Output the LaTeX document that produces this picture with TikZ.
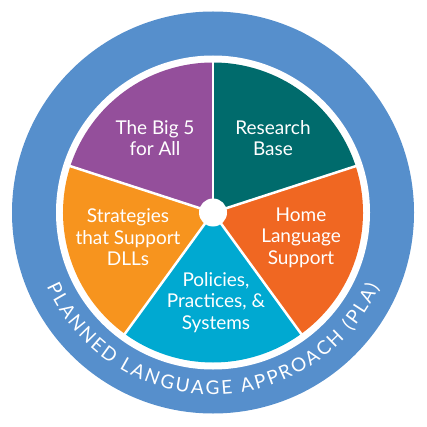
\documentclass[tikz,border=0pt]{standalone}
\usepackage{fontspec}
\setmainfont{Lato}
\usetikzlibrary{calc, decorations.text}

\definecolor{ringblue}{HTML}{568FCC}
\definecolor{bigpurple}{HTML}{944F9B}
\definecolor{researchteal}{HTML}{006B6C}
\definecolor{homeorange}{HTML}{F06722}
\definecolor{policycyan}{HTML}{00A9D1}
\definecolor{stratorange}{HTML}{F7941E}

\begin{document}
\begin{tikzpicture}[x=1pt,y=1pt,
    pietext/.style={text=white,align=center,font=\fontsize{19}{21.5}\selectfont},
    divider/.style={white,line width=2.5pt}]
	\useasboundingbox (0,0) rectangle (427,426);
	\coordinate (c) at (213,213.5);
	% ring
	\fill[ringblue] (c) circle[radius=201];
	\fill[white] (c) circle[radius=157];
	% sectors
	\fill[bigpurple]    (c) -- ++(90:150)  arc[start angle=90,  end angle=162, radius=150] -- cycle;
	\fill[stratorange]  (c) -- ++(162:150) arc[start angle=162, end angle=234, radius=150] -- cycle;
	\fill[policycyan]   (c) -- ++(234:150) arc[start angle=234, end angle=306, radius=150] -- cycle;
	\fill[homeorange]   (c) -- ++(306:150) arc[start angle=306, end angle=378, radius=150] -- cycle;
	\fill[researchteal] (c) -- ++(18:150)  arc[start angle=18,  end angle=90,  radius=150] -- cycle;
	\foreach \a in {18,90,162,234,306}
		\draw[divider] (c) -- ++(\a:151);
	\node[circle, fill=white, minimum size=28pt, inner sep=0pt] (hub) at (c) {};
	% labels
	\node[pietext] (big5)       at (155,288)   {The Big 5\\for All};
	\node[pietext] (research)   at (273,288)   {Research\\Base};
	\node[pietext] (home)       at (301,188.5) {Home\\Language\\Support};
	\node[pietext] (policies)   at (216,123.5) {Policies,\\Practices, \&\\Systems};
	\node[pietext] (strategies) at (128,188.5) {Strategies\\that Support\\DLLs};
	% curved title
	\path[decorate, decoration={text along path, text align=fit to path, text color=white,
	    text={|\fontsize{19}{19}\selectfont|PLANNED LANGUAGE APPROACH (PLA)}}]
		($(c)+(204:182)$) arc[start angle=204, end angle=336, radius=182];
\end{tikzpicture}
\end{document}
